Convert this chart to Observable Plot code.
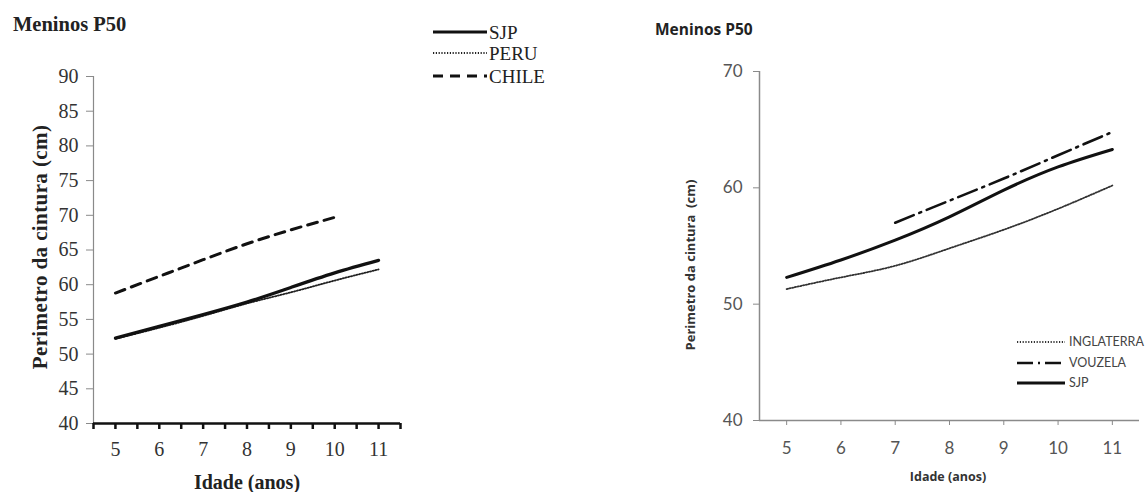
<!DOCTYPE html>
<html>
<head>
<meta charset="utf-8">
<script src="https://cdn.jsdelivr.net/npm/d3@7"></script>
<script src="https://cdn.jsdelivr.net/npm/@observablehq/plot@0.6"></script>
<style>
  html, body { margin: 0; padding: 0; background: #fff; }
  #wrap { position: relative; width: 1147px; height: 492px; overflow: hidden; background: #fff; }
  #wrap > svg, #wrap > figure { position: absolute; margin: 0; }
  .t { position: absolute; white-space: pre; line-height: 1; color: #222; }
</style>
</head>
<body>
<div id="wrap"></div>
<script>
// ---------- data ----------
const ages = [5, 6, 7, 8, 9, 10, 11];
const sjpLeft = [52.3, 54.0, 55.7, 57.5, 59.6, 61.7, 63.5];
const peruLeft = [52.2, 53.8, 55.5, 57.3, 58.9, 60.6, 62.2];
const chileAges = [5, 6, 7, 8, 9, 10];
const chileLeft = [58.8, 61.2, 63.6, 65.9, 67.9, 69.7];

const sjpRight = [52.3, 53.8, 55.5, 57.5, 59.8, 61.8, 63.3];
const inglaterraRight = [51.3, 52.3, 53.3, 54.8, 56.4, 58.2, 60.2];
const vouzelaAges = [7, 8, 9, 10, 11];
const vouzelaRight = [57.0, 58.9, 60.8, 62.8, 64.8];

const leftYTicks = [40, 45, 50, 55, 60, 65, 70, 75, 80, 85, 90];
const leftXMinorTicks = [4.5, 5, 5.5, 6, 6.5, 7, 7.5, 8, 8.5, 9, 9.5, 10, 10.5, 11, 11.5];
const rightYTicks = [40, 50, 60, 70];

const leftTitle = "Meninos P50";
const rightTitle = "Meninos P50";
const leftXLabel = "Idade (anos)";
const leftYLabel = "Perimetro da cintura (cm)";
const rightXLabel = "Idade (anos)";
const rightYLabel = "Perimetro da cintura  (cm)";
const leftLegend = ["SJP", "PERU", "CHILE"];
const rightLegend = ["INGLATERRA", "VOUZELA", "SJP"];

const toRows = (xs, ys) => xs.map((x, i) => ({x, y: ys[i]}));
const fmt = d => String(d);

const wrap = document.getElementById("wrap");
const serif = "'Liberation Serif', 'Times New Roman', serif";
const sans = "Lato, 'Open Sans', sans-serif";
const osans = "'Open Sans', sans-serif";
const dotted = "1.2,1.6";

// ---------- left chart ----------
const left = Plot.plot({
  width: 420, height: 492,
  marginLeft: 93, marginRight: 20, marginTop: 76, marginBottom: 69,
  x: {domain: [4.5, 11.5]},
  y: {domain: [40, 90]},
  style: {background: "transparent", overflow: "visible"},
  marks: [
    Plot.ruleX([4.5], {stroke: "#8a8a8a", strokeWidth: 1.2}),
    Plot.axisY({ticks: leftYTicks, tickSize: 7, tickPadding: 8, fontSize: 20, fontFamily: serif,
                fill: "#333", stroke: "#8a8a8a", tickFormat: fmt, label: null}),
    Plot.axisX({ticks: leftXMinorTicks, tickSize: 6, tickFormat: () => "", stroke: "#111", strokeWidth: 2.5, label: null}),
    Plot.axisX({ticks: ages, tickSize: 0, tickPadding: 18, fontSize: 20, fontFamily: serif, fill: "#333", tickFormat: fmt, label: null}),
    Plot.line(toRows(chileAges, chileLeft), {x: "x", y: "y", curve: "natural", stroke: "#111", strokeWidth: 3, strokeDasharray: "10,7"}),
    Plot.line(toRows(ages, peruLeft), {x: "x", y: "y", curve: "natural", stroke: "#222", strokeWidth: 1.8, strokeDasharray: dotted}),
    Plot.line(toRows(ages, sjpLeft), {x: "x", y: "y", curve: "natural", stroke: "#111", strokeWidth: 3.2}),
    Plot.ruleY([40], {stroke: "#111", strokeWidth: 2.6})
  ]
});
left.style.left = "0px"; left.style.top = "0px";
wrap.appendChild(left);

// ---------- right chart ----------
const right = Plot.plot({
  width: 547, height: 492,
  marginLeft: 159, marginRight: 8, marginTop: 71, marginBottom: 72,
  x: {domain: [4.5, 11.5]},
  y: {domain: [40, 70]},
  style: {background: "transparent", overflow: "visible"},
  marks: [
    Plot.ruleX([4.5], {stroke: "#8a8a8a", strokeWidth: 1.5}),
    Plot.ruleY([40], {stroke: "#8a8a8a", strokeWidth: 1.5}),
    Plot.axisY({ticks: rightYTicks, tickSize: 6, tickPadding: 11, fontSize: 17, fontFamily: sans,
                fill: "#555", stroke: "#8a8a8a", tickFormat: fmt, label: null}),
    Plot.axisX({ticks: ages, tickSize: 5, tickPadding: 16, fontSize: 17, fontFamily: sans,
                fill: "#555", stroke: "#8a8a8a", tickFormat: fmt, label: null}),
    Plot.line(toRows(ages, inglaterraRight), {x: "x", y: "y", curve: "natural", stroke: "#333", strokeWidth: 1.8, strokeDasharray: dotted}),
    Plot.line(toRows(vouzelaAges, vouzelaRight), {x: "x", y: "y", curve: "natural", stroke: "#111", strokeWidth: 2.6, strokeDasharray: "20,6,2,6"}),
    Plot.line(toRows(ages, sjpRight), {x: "x", y: "y", curve: "natural", stroke: "#111", strokeWidth: 3})
  ]
});
right.style.left = "600px"; right.style.top = "0px";
wrap.appendChild(right);

// ---------- texts ----------
function addText(txt, x, y, opts) {
  const d = document.createElement("div");
  d.className = "t";
  d.textContent = txt;
  d.style.left = x + "px";
  d.style.top = y + "px";
  d.style.fontFamily = opts.font;
  d.style.fontSize = opts.size + "px";
  d.style.fontWeight = opts.weight || "normal";
  if (opts.color) d.style.color = opts.color;
  if (opts.ls) d.style.letterSpacing = opts.ls + "px";
  const tx = opts.anchor === "start" ? "0" : "-50%";
  d.style.transform = `translate(${tx}, -50%)`;
  if (opts.rotate) { d.style.transformOrigin = "0 0"; d.style.transform = `rotate(-90deg) translate(-50%, -50%)`; }
  wrap.appendChild(d);
}

addText(leftTitle, 13, 24, {font: serif, size: 20.5, weight: "bold", anchor: "start"});
addText(leftXLabel, 247, 482, {font: serif, size: 20, weight: "bold"});
addText(leftYLabel, 40, 247, {font: serif, size: 21, weight: "bold", rotate: true, ls: 0.4});

addText(rightTitle, 655, 30, {font: osans, size: 15.5, weight: "bold", anchor: "start"});
addText(rightXLabel, 948, 477, {font: osans, size: 12.5, weight: "bold", color: "#333"});
addText(rightYLabel, 690, 265, {font: osans, size: 13, weight: "bold", rotate: true, color: "#333"});

// ---------- legends ----------
const lg = d3.create("svg").attr("width", 1147).attr("height", 492)
  .style("position", "absolute").style("left", "0px").style("top", "0px").style("pointer-events", "none");

const leftStyles = [
  {w: 3.2, dash: null, c: "#111"},
  {w: 1.8, dash: dotted, c: "#222"},
  {w: 3, dash: "10,7", c: "#111"}
];
const leftYs = [32, 53, 76];
leftLegend.forEach((name, i) => {
  const s = leftStyles[i];
  lg.append("line").attr("x1", 433).attr("x2", 487).attr("y1", leftYs[i]).attr("y2", leftYs[i])
    .attr("stroke", s.c).attr("stroke-width", s.w).attr("stroke-dasharray", s.dash);
  lg.append("text").attr("x", 489).attr("y", leftYs[i]).attr("dy", "0.35em")
    .attr("font-family", serif).attr("font-size", 19).attr("fill", "#222").text(name);
});

const rightStyles = [
  {w: 1.8, dash: dotted, c: "#333"},
  {w: 2.6, dash: "16,5,2,5", c: "#111"},
  {w: 3, dash: null, c: "#111"}
];
const rightYs = [342, 363, 383];
rightLegend.forEach((name, i) => {
  const s = rightStyles[i];
  lg.append("line").attr("x1", 1017).attr("x2", 1065).attr("y1", rightYs[i]).attr("y2", rightYs[i])
    .attr("stroke", s.c).attr("stroke-width", s.w).attr("stroke-dasharray", s.dash);
  lg.append("text").attr("x", 1069).attr("y", rightYs[i]).attr("dy", "0.35em")
    .attr("font-family", sans).attr("font-size", 12.5).attr("fill", "#444").text(name);
});
wrap.appendChild(lg.node());
</script>
</body>
</html>
